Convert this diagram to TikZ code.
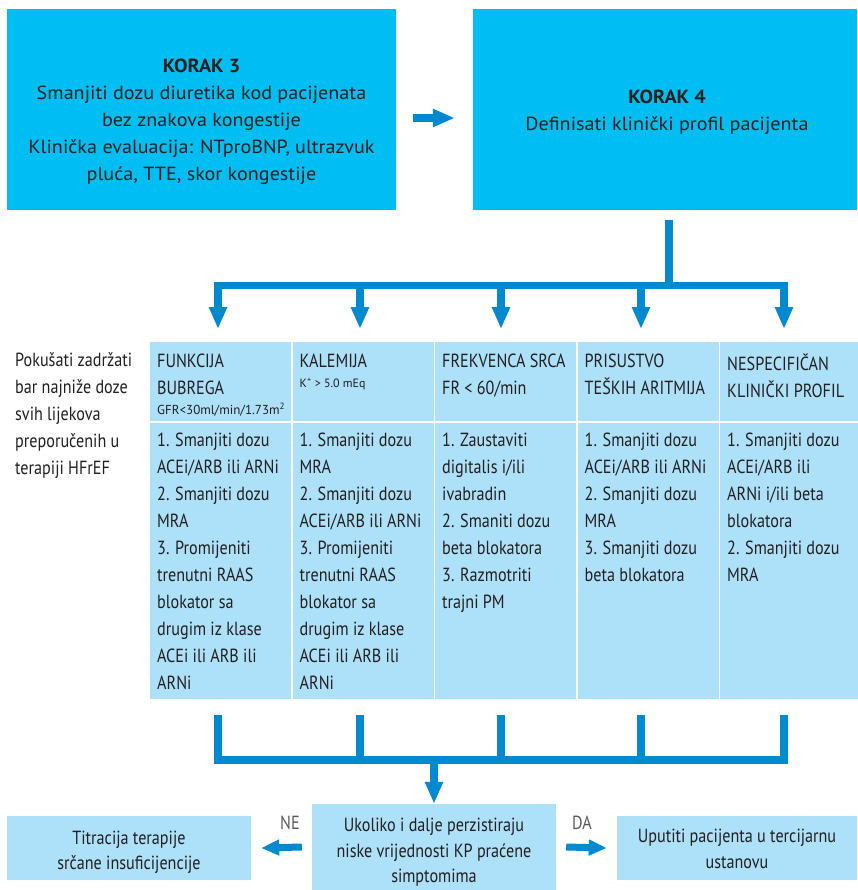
\documentclass[tikz,border=0pt]{standalone}
\usepackage{fontspec}
\setmainfont{PT Sans}[FakeStretch=0.85]
\newfontfamily\plainfont{PT Sans}
\newfontfamily\widefont{PT Sans}[FakeStretch=1.06]
\usetikzlibrary{arrows.meta,positioning}

\definecolor{korakblue}{HTML}{00BDF2}
\definecolor{cellblue}{HTML}{ADE0F9}
\definecolor{linkblue}{HTML}{0089CF}
\definecolor{inktext}{HTML}{231F20}

\tikzset{
  korak/.style={fill=korakblue, minimum height=201pt},
  koraktext/.style={anchor=north, align=center, font=\widefont\fontsize{19}{27}\selectfont},
  cellbox/.style={fill=cellblue, anchor=north west, minimum width=141pt},
  celltext/.style={anchor=north west, align=left},
  link/.style={draw=linkblue, line width=7.5pt},
  linkarrow/.style={link, -{Triangle[width=17pt,length=22pt]}},
  sidearrow/.style={link, line width=7pt, -{Triangle[width=15pt,length=18pt]}},
  answer/.style={text=black!65}
}

\begin{document}
\begin{tikzpicture}[x=1pt, y=-1pt, font=\fontsize{19}{27}\selectfont, text=inktext,
  every node/.style={inner sep=0pt}]
\useasboundingbox (0,0) rectangle (857,890);

% korak 3 -> korak 4
\node[korak, minimum width=389pt] (k3) at (201.5,109.5) {};
\node[koraktext] (k3txt) at (201.5,59) {\textbf{KORAK 3}\\Smanjiti dozu diuretika kod pacijenata\\bez znakova kongestije\\Klinička evaluacija: NTproBNP, ultrazvuk\\pluća, TTE, skor kongestije};
\node[korak, minimum width=384pt] (k4) at (665,109.5) {};
\node[koraktext] (k4txt) at (667,90) {\textbf{KORAK 4}\\Definisati klinički profil pacijenta};
\draw[linkarrow] ([shift={(17,8.5)}]k3.east) -- ([shift={(-18,8.5)}]k4.west);

\node[anchor=north west, align=left] (keep) at (15,352) {Pokušati zadržati\\bar najniže doze\\svih lijekova\\preporučenih u\\terapiji HFrEF};

% header row
\node[cellbox, minimum height=79pt] (h1) at (150,342) {};
\node[cellbox, minimum height=79pt] (h2) at (292.5,342) {};
\node[cellbox, minimum height=79pt] (h3) at (435,342) {};
\node[cellbox, minimum height=79pt] (h4) at (577.5,342) {};
\node[cellbox, minimum height=79pt] (h5) at (720,342) {};
\node[celltext] (h1txt) at ([shift={(7,11.5)}]h1.north west) {FUNKCIJA\\BUBREGA\\[-7pt]{\plainfont\fontsize{13}{15}\selectfont GFR<30ml/min/1.73m\textsuperscript{2}}};
\node[celltext] (h2txt) at ([shift={(7,11.5)}]h2.north west) {KALEMIJA\\[-7pt]{\plainfont\fontsize{12}{14}\selectfont K\textsuperscript{+} > 5.0 mEq}};
\node[celltext] (h3txt) at ([shift={(7,11.5)}]h3.north west) {FREKVENCA SRCA\\FR < 60/min};
\node[celltext] (h4txt) at ([shift={(7,11.5)}]h4.north west) {PRISUSTVO\\TEŠKIH ARITMIJA};
\node[celltext] (h5txt) at ([shift={(7,11.5)}]h5.north west) {NESPECIFIČAN\\KLINIČKI PROFIL};

% body row
\node[cellbox, minimum height=276pt] (b1) at (150,423) {};
\node[cellbox, minimum height=276pt] (b2) at (292.5,423) {};
\node[cellbox, minimum height=276pt] (b3) at (435,423) {};
\node[cellbox, minimum height=276pt] (b4) at (577.5,423) {};
\node[cellbox, minimum height=276pt] (b5) at (720,423) {};
\node[celltext] (b1txt) at ([shift={(7,10)}]b1.north west) {1. Smanjiti dozu\\ACEi/ARB ili ARNi\\2. Smanjiti dozu\\MRA\\3. Promijeniti\\trenutni RAAS\\blokator sa\\drugim iz klase\\ACEi ili ARB ili\\ARNi};
\node[celltext] (b2txt) at ([shift={(7,10)}]b2.north west) {1. Smanjiti dozu\\MRA\\2. Smanjiti dozu\\ACEi/ARB ili ARNi\\3. Promijeniti\\trenutni RAAS\\blokator sa\\drugim iz klase\\ACEi ili ARB ili\\ARNi};
\node[celltext] (b3txt) at ([shift={(7,10)}]b3.north west) {1. Zaustaviti\\digitalis i/ili\\ivabradin\\2. Smaniti dozu\\beta blokatora\\3. Razmotriti\\trajni PM};
\node[celltext] (b4txt) at ([shift={(7,10)}]b4.north west) {1. Smanjiti dozu\\ACEi/ARB ili ARNi\\2. Smanjiti dozu\\MRA\\3. Smanjiti dozu\\beta blokatora};
\node[celltext] (b5txt) at ([shift={(7,10)}]b5.north west) {1. Smanjiti dozu\\ACEi/ARB ili\\ARNi i/ili beta\\blokatora\\2. Smanjiti dozu\\MRA};

% fan out / fan in
\coordinate (split) at (669,285.5);
\coordinate (merge) at (434,760);
\foreach \i/\x in {1/218,2/360,3/501,4/641,5/784} {
  \coordinate (fan\i) at (\x,285.5);
  \coordinate (join\i) at (\x,760);
}
\draw[link] ([shift={(4,10)}]k4.south) -- (split);
\draw[link, line cap=rect] (fan1) -- (fan5);
\foreach \i in {1,...,5} {
  \draw[linkarrow, shorten >=13pt] (fan\i) -- (fan\i |- h\i.north);
  \draw[link, shorten <=16pt] (join\i |- b\i.south) -- (join\i);
}
\draw[link, line cap=rect] (join1) -- (join5);

% bottom row
\node[cellbox, anchor=center, minimum width=244pt, minimum height=86pt] (ask) at (434,847) {};
\node[anchor=north, align=center, font=\fontsize{19}{25.5}\selectfont] (asktxt) at (434,818) {Ukoliko i dalje perzistiraju\\niske vrijednosti KP praćene\\simptomima};
\node[cellbox, anchor=center, minimum width=244pt, minimum height=64pt] (titr) at (129,848) {};
\node[anchor=north, align=center, font=\fontsize{19}{25}\selectfont] (titrtxt) at (129,831) {Titracija terapije\\srčane insuficijencije};
\node[cellbox, anchor=center, minimum width=240pt, minimum height=64pt] (uput) at (737,848) {};
\node[anchor=north, align=center, font=\fontsize{19}{26}\selectfont] (uputtxt) at (737,829) {Uputiti pacijenta u tercijarnu\\ustanovu};
\draw[linkarrow] (merge) -- (ask.north);
\draw[sidearrow] ([xshift=-10pt]ask.west) -- ([xshift=10pt]titr.east);
\draw[sidearrow] ([xshift=10pt]ask.east) -- ([xshift=-10pt]uput.west);
\node[answer] (no) at (290,823) {NE};
\node[answer] (yes) at (582,823) {DA};
\end{tikzpicture}
\end{document}
